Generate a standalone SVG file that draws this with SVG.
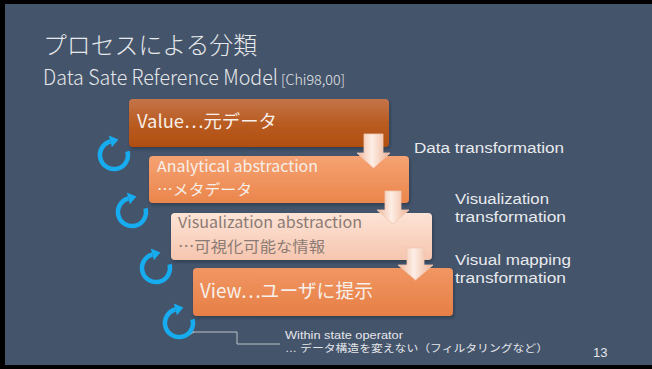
<svg xmlns="http://www.w3.org/2000/svg" width="652" height="369" viewBox="0 0 652 369">
  <style>
    .ttl { font-family: "Noto Sans CJK JP", "Liberation Sans", sans-serif; font-weight: 300; fill: #e6e8eb; }
    .lbl { font-family: "Noto Sans CJK JP", "Liberation Sans", sans-serif; font-weight: 400; }
    .light { fill: #f7efe9; }
    .dim { fill: #8c7b74; }
    .side { font-family: "Liberation Sans", "Noto Sans CJK JP", sans-serif; font-size: 14px; fill: #e8eaee; }
    .note { font-family: "Liberation Sans", "Noto Sans CJK JP", sans-serif; font-size: 10.5px; fill: #e4e6ea; }
    .cycle { fill: none; stroke: #17acef; stroke-width: 4.5; }
    .cyclehead { fill: #17acef; }
    .step { fill: url(#stepArrow); stroke: #f0c8b4; stroke-width: 0.8; }
  </style>
  <defs>
    <linearGradient id="g1" x1="0" y1="0" x2="0" y2="1">
      <stop offset="0" stop-color="#c4744a"/>
      <stop offset="0.5" stop-color="#b95c22"/>
      <stop offset="1" stop-color="#b04e10"/>
    </linearGradient>
    <linearGradient id="g2" x1="0" y1="0" x2="0" y2="1">
      <stop offset="0" stop-color="#f6a272"/>
      <stop offset="1" stop-color="#ea864c"/>
    </linearGradient>
    <linearGradient id="g3" x1="0" y1="0" x2="0" y2="1">
      <stop offset="0" stop-color="#fde3d6"/>
      <stop offset="1" stop-color="#f6c6af"/>
    </linearGradient>
    <linearGradient id="g4" x1="0" y1="0" x2="0" y2="1">
      <stop offset="0" stop-color="#f19663"/>
      <stop offset="1" stop-color="#e67f46"/>
    </linearGradient>
    <linearGradient id="stepArrow" x1="0" y1="0" x2="1" y2="0">
      <stop offset="0" stop-color="#f0b89c"/>
      <stop offset="0.45" stop-color="#fdeee6"/>
      <stop offset="1" stop-color="#eeb194"/>
    </linearGradient>
    <filter id="soft" x="-5%" y="-10%" width="110%" height="130%">
      <feDropShadow dx="1" dy="2" stdDeviation="1.5" flood-color="#1c2533" flood-opacity="0.45"/>
    </filter>
    <!-- clockwise refresh-style loop, centred on the origin -->
    <g id="loop">
      <path class="cycle" d="M13.5 -3.6 A14 14 0 1 1 -3.6 -13.5"/>
      <polygon class="cyclehead" points="-5.2,-19.4 -2.1,-7.8 4.4,-15.6"/>
    </g>
    <marker id="open" markerWidth="8" markerHeight="8" refX="1" refY="4" orient="auto" markerUnits="userSpaceOnUse">
      <path d="M6 1 L1 4 L6 7" fill="none" stroke="#c9cdd3" stroke-width="0.9"/>
    </marker>
  </defs>

  <!-- slide frame -->
  <rect x="0" y="0" width="652" height="369" fill="#000"/>
  <rect x="5" y="4" width="647" height="361" fill="#44546a"/>

  <!-- heading -->
  <text class="ttl" x="43" y="54" font-size="24" textLength="214" lengthAdjust="spacingAndGlyphs">プロセスによる分類</text>
  <text class="ttl" x="43" y="85" font-size="21" textLength="235" lengthAdjust="spacingAndGlyphs">Data Sate Reference Model</text>
  <text class="ttl" x="281" y="85" font-size="14" textLength="64" lengthAdjust="spacingAndGlyphs">[Chi98,00]</text>

  <!-- data states -->
  <g id="value">
    <rect x="129" y="99" width="260" height="48" rx="4" fill="url(#g1)" filter="url(#soft)"/>
    <text class="lbl light" x="137" y="128" font-size="18" textLength="140" lengthAdjust="spacingAndGlyphs">Value…元データ</text>
  </g>
  <g id="analytical">
    <rect x="149" y="156" width="260" height="47" rx="4" fill="url(#g2)" filter="url(#soft)"/>
    <text class="lbl light" x="157" y="172" font-size="15" textLength="161" lengthAdjust="spacingAndGlyphs">Analytical abstraction</text>
    <text class="lbl light" x="157" y="195" font-size="15" textLength="95" lengthAdjust="spacingAndGlyphs">…メタデータ</text>
  </g>
  <g id="visabs">
    <rect x="171" y="213" width="261" height="47" rx="4" fill="url(#g3)" filter="url(#soft)"/>
    <text class="lbl dim" x="178" y="228" font-size="15" textLength="184" lengthAdjust="spacingAndGlyphs">Visualization abstraction</text>
    <text class="lbl dim" x="178" y="252" font-size="15" textLength="147" lengthAdjust="spacingAndGlyphs">…可視化可能な情報</text>
  </g>
  <g id="view">
    <rect x="193" y="268" width="260" height="48" rx="4" fill="url(#g4)" filter="url(#soft)"/>
    <text class="lbl light" x="200" y="298" font-size="19.5" textLength="173" lengthAdjust="spacingAndGlyphs">View…ユーザに提示</text>
  </g>

  <!-- transformations between states -->
  <g id="connectors">
    <path class="step" d="M364 134 H383 V153 H390 L373.5 168 L357 153 H364 Z"/>
    <path class="step" d="M385 191 H401 V210 H409 L393 224 L377 210 H385 Z"/>
    <path class="step" d="M407 248 H424 V265 H433 L415.5 280 L398 265 H407 Z"/>
    <polyline points="280,344 237,344 237,332 194,332" fill="none" stroke="#c9cdd3" stroke-width="0.9" marker-end="url(#open)"/>
  </g>

  <!-- within-state operators -->
  <g id="op1"><use href="#loop" x="114" y="155"/></g>
  <g id="op2"><use href="#loop" x="132" y="212"/></g>
  <g id="op3"><use href="#loop" x="156" y="268"/></g>
  <g id="op4"><use href="#loop" x="179" y="323"/></g>

  <!-- transformation labels -->
  <g id="labels">
    <text class="side" x="414" y="153" textLength="150" lengthAdjust="spacingAndGlyphs">Data transformation</text>
    <text class="side" x="455" y="204" textLength="94" lengthAdjust="spacingAndGlyphs">Visualization</text>
    <text class="side" x="455" y="222" textLength="111" lengthAdjust="spacingAndGlyphs">transformation</text>
    <text class="side" x="455" y="265" textLength="116" lengthAdjust="spacingAndGlyphs">Visual mapping</text>
    <text class="side" x="455" y="283" textLength="111" lengthAdjust="spacingAndGlyphs">transformation</text>
  </g>

  <g id="note">
    <text class="note" x="285" y="339" textLength="118" lengthAdjust="spacingAndGlyphs">Within state operator</text>
    <text class="note" x="285" y="352" textLength="263" lengthAdjust="spacingAndGlyphs">… データ構造を変えない（フィルタリングなど）</text>
  </g>
  <text x="593" y="357" font-family="Liberation Sans, sans-serif" font-size="13" fill="#e4e6ea">13</text>
</svg>
